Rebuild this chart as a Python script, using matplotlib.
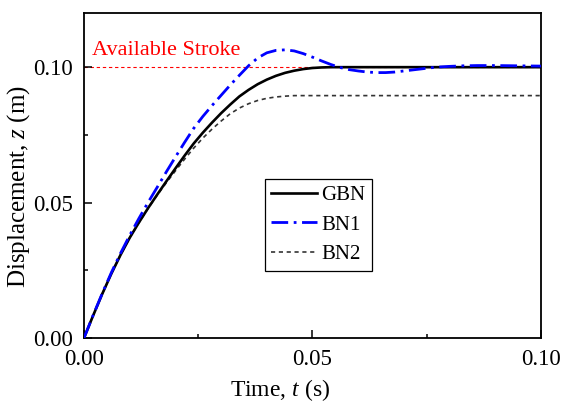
import numpy as np
import matplotlib
matplotlib.use("Agg")
from matplotlib import pyplot as plt

plt.rcParams['font.family'] = ['Liberation Serif', 'DejaVu Serif']
plt.rcParams['mathtext.fontset'] = 'custom'
plt.rcParams['mathtext.rm'] = 'Liberation Serif'
plt.rcParams['mathtext.it'] = 'Liberation Serif:italic'

# values (time in s, displacement in m)
t_gbn = [0.000, 0.002, 0.004, 0.006, 0.008, 0.010, 0.012, 0.014, 0.016, 0.018,
         0.020, 0.022, 0.024, 0.026, 0.028, 0.030, 0.032, 0.034, 0.036, 0.038,
         0.040, 0.042, 0.044, 0.046, 0.048, 0.050, 0.052, 0.054, 0.100]
z_gbn = [0.0000, 0.0083, 0.0163, 0.0238, 0.0307, 0.0370, 0.0426, 0.0479, 0.0529, 0.0578,
         0.0626, 0.0673, 0.0718, 0.0758, 0.0795, 0.0830, 0.0862, 0.0892, 0.0916, 0.0937,
         0.0954, 0.0968, 0.0979, 0.0987, 0.0993, 0.0997, 0.0999, 0.1000, 0.1000]

t_bn1 = [0.000, 0.002, 0.004, 0.006, 0.008, 0.010, 0.012, 0.014, 0.016, 0.018,
         0.020, 0.022, 0.024, 0.026, 0.028, 0.030, 0.032, 0.034, 0.036, 0.038,
         0.040, 0.042, 0.044, 0.046, 0.048, 0.050, 0.052, 0.054, 0.056, 0.058,
         0.060, 0.062, 0.064, 0.066, 0.068, 0.070, 0.072, 0.074, 0.076, 0.078,
         0.080, 0.083, 0.086, 0.090, 0.095, 0.100]
z_bn1 = [0.0000, 0.0084, 0.0165, 0.0242, 0.0313, 0.0379, 0.0441, 0.0500, 0.0556, 0.0613,
         0.0668, 0.0722, 0.0774, 0.0818, 0.0858, 0.0896, 0.0934, 0.0970, 0.1005, 0.1034,
         0.1053, 0.1062, 0.1064, 0.1060, 0.1050, 0.1037, 0.1023, 0.1010, 0.0999, 0.0991,
         0.0986, 0.0982, 0.0980, 0.0980, 0.0982, 0.0986, 0.0990, 0.0994, 0.0998, 0.1001,
         0.1003, 0.1005, 0.1006, 0.1006, 0.1005, 0.1004]

t_bn2 = [0.000, 0.002, 0.004, 0.006, 0.008, 0.010, 0.012, 0.014, 0.016, 0.018,
         0.020, 0.022, 0.024, 0.026, 0.028, 0.030, 0.032, 0.034, 0.036, 0.038,
         0.040, 0.042, 0.044, 0.046, 0.100]
z_bn2 = [0.0000, 0.0083, 0.0163, 0.0238, 0.0307, 0.0370, 0.0425, 0.0478, 0.0527, 0.0573,
         0.0617, 0.0660, 0.0701, 0.0738, 0.0771, 0.0801, 0.0828, 0.0849, 0.0865, 0.0877,
         0.0885, 0.0890, 0.0893, 0.0895, 0.0895]

stroke = 0.10

fig = plt.figure(figsize=(5.63, 4.09), dpi=100)
ax = fig.add_axes([0.1492, 0.1736, 0.8117, 0.7946])

ax.axhline(stroke, color='red', linewidth=0.8, linestyle=(0, (3, 2.5)), zorder=1)
ax.plot(t_gbn, z_gbn, color='black', linewidth=1.9, label='GBN', zorder=3)
ax.plot(t_bn1, z_bn1, color='blue', linewidth=2.0, linestyle=(0, (6, 2, 1, 2)),
        label='BN1', zorder=4)
ax.plot(t_bn2, z_bn2, color='#333333', linewidth=1.2, linestyle=(0, (2.5, 2.2)),
        label='BN2', zorder=2)

ax.text(0.0018, 0.1063, 'Available Stroke', color='red', fontsize=16,
        va='center', ha='left')

ax.set_xlim(0, 0.10)
ax.set_ylim(0, 0.12)
ax.set_xticks([0, 0.05, 0.10])
ax.set_yticks([0, 0.05, 0.10])
ax.set_xticks([0.025, 0.075], minor=True)
ax.set_yticks([0.025, 0.075], minor=True)
ax.xaxis.set_major_formatter(matplotlib.ticker.FormatStrFormatter('%.2f'))
ax.yaxis.set_major_formatter(matplotlib.ticker.FormatStrFormatter('%.2f'))
ax.tick_params(which='major', direction='in', length=6, width=1.1, labelsize=16.5, pad=8)
ax.tick_params(which='minor', direction='in', length=3, width=1.1)
for s in ax.spines.values():
  s.set_linewidth(1.3)

ax.set_xlabel('Time, $\\it{t}$ (s)', fontsize=17)
ax.set_ylabel('Displacement, $\\it{z}$ (m)', fontsize=18)
ax.xaxis.set_label_coords(0.43, -0.12)
ax.yaxis.set_label_coords(-0.113, 0.466)

leg = ax.legend(loc='upper left', bbox_to_anchor=(0.396, 0.489), borderaxespad=0,
                fontsize=15, frameon=True, fancybox=False, framealpha=1,
                edgecolor='black', handlelength=2.2, handletextpad=0.2,
                labelspacing=0.49, borderpad=0.3)
leg.get_frame().set_linewidth(0.9)

fig.savefig('out.png', dpi=100)
